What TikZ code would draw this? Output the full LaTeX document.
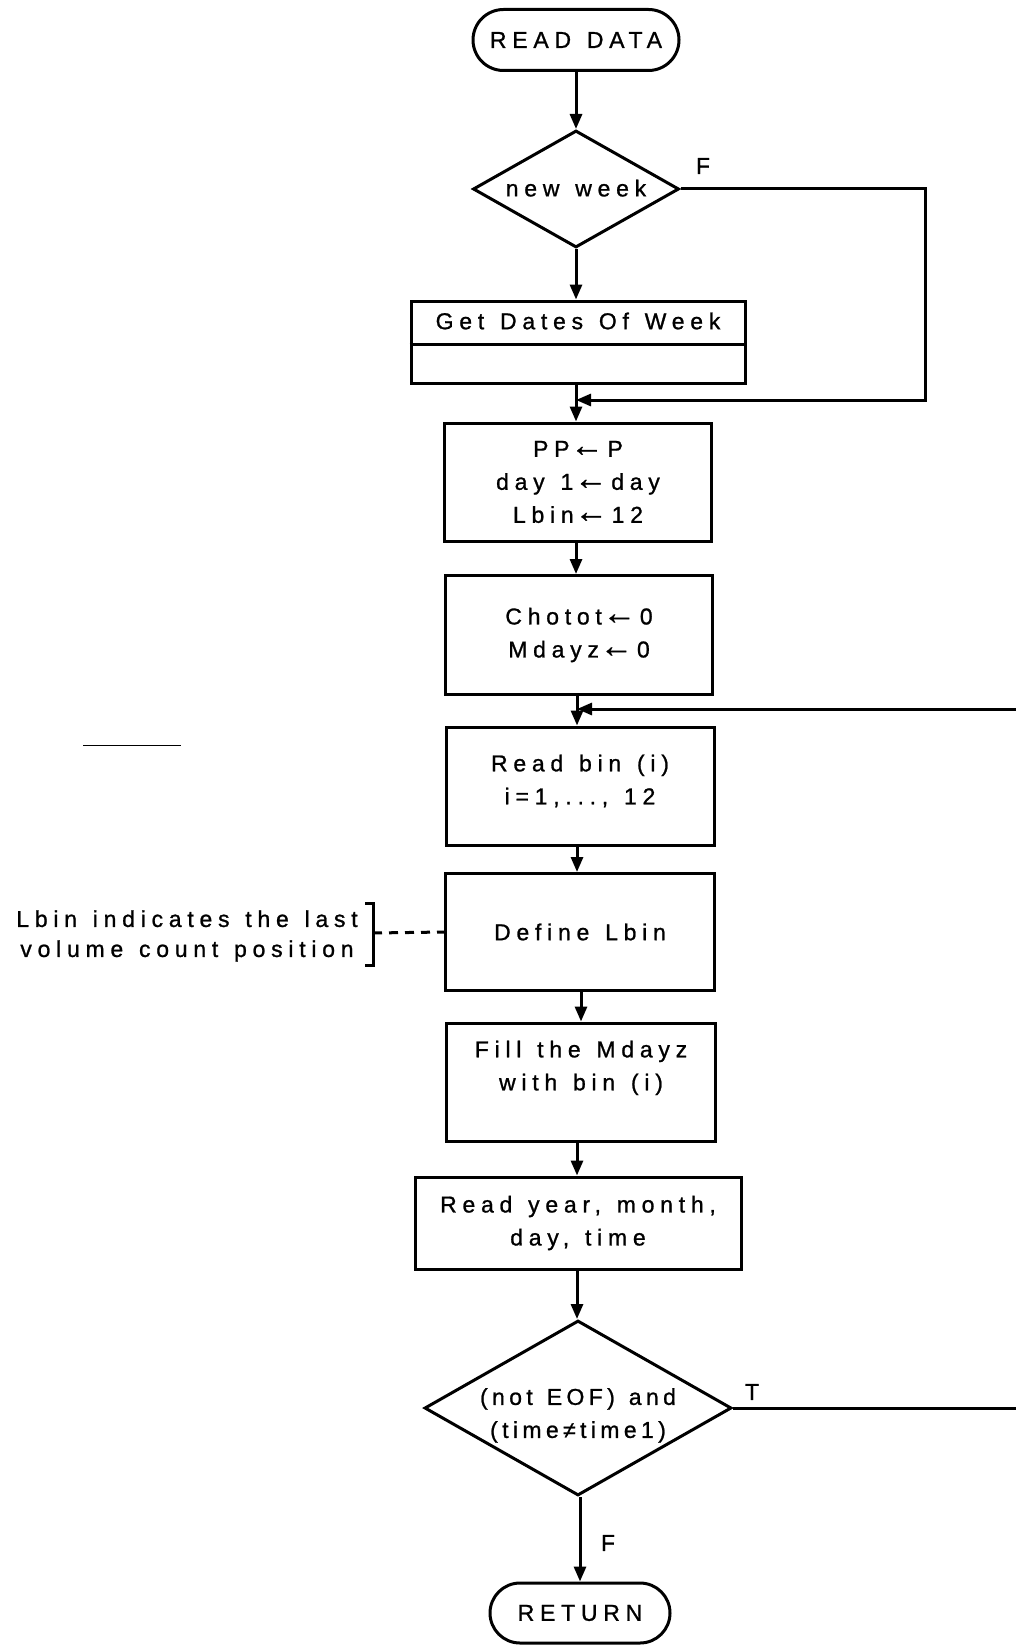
\documentclass[tikz,border=0pt]{standalone}
\usepackage{fontspec}
\setmainfont{Liberation Sans}[LetterSpace=25, WordSpace=1.3, FakeBold=1]
\usetikzlibrary{shapes.geometric,shapes.misc,arrows.meta}
% left arrow used in assignments
\newcommand\asg{{\kern1pt\raisebox{0.5pt}{\fontsize{33}{33}\selectfont\addfontfeature{LetterSpace=0}←}\kern4pt}}
% decision text: set without size so the diamond keeps its given dimensions
\newcommand\dtext[2][0pt]{\smash{\makebox[0pt]{\raisebox{#1}{\begin{tabular}{@{}c@{}}#2\end{tabular}}}}}
\begin{document}
\begin{tikzpicture}[x=1pt,y=-1pt,
  font=\fontsize{23}{33}\selectfont,
  ln/.style={line width=3pt},
  box/.style={draw, ln, rectangle, align=center, inner sep=0pt},
  term/.style={draw, ln, rounded rectangle, align=center, inner sep=0pt},
  dec/.style={draw, ln, diamond, inner sep=0pt},
  flow/.style={ln, -{Triangle[length=15pt,width=12pt]}},
  lbl/.style={inner sep=0pt}]
\useasboundingbox (0,0) rectangle (1016,1645);
\clip (0,0) rectangle (1016,1645);

% main column
\node[term, minimum width=206, minimum height=61] (start) at (576,40) {READ DATA};
\node[dec, minimum width=206, minimum height=117] (week) at (576,189) {\dtext[-7pt]{new week}};
\node[box, minimum width=334, minimum height=82] (dates) at (578,342) {};
\node[lbl] (datestxt) at (578,321) {Get Dates Of Week};
\draw[ln] (dates.west |- 0,344) -- (dates.east |- 0,344);
\node[box, minimum width=267, minimum height=118] (init) at (578,482) {PP\asg P\\day 1\asg day\\Lbin\asg 12};
\node[box, minimum width=267, minimum height=119] (zero) at (579,635) {Chotot\asg 0\\Mdayz\asg 0};
\node[box, minimum width=268, minimum height=118] (readbin) at (580,786) {Read bin (i)\\i=1,..., 12\\[-20pt]~};
\node[box, minimum width=269, minimum height=117] (define) at (580,932) {Define Lbin};
\node[box, minimum width=269, minimum height=118] (fill) at (581,1082) {Fill the Mdayz\\with bin (i)\\~};
\node[box, minimum width=326, minimum height=92] (readyr) at (578,1223) {Read year, month,\\day, time};
\node[dec, minimum width=307, minimum height=175] (eof) at (578,1408)
  {\addfontfeature{LetterSpace=19}\dtext[-13pt]{(not EOF) and\\(time≠time1)}};
\node[term, minimum width=180, minimum height=60] (ret) at (580,1613) {RETURN};

% branch labels
\node[lbl] (lf1) at (703,166) {F};
\node[lbl] (lt2) at (752,1392) {T};
\node[lbl] (lf2) at (608,1543) {F};

% join points and loop-back rails
\coordinate (join1) at (576,400);
\coordinate (rail1) at (925,0);
\coordinate (join2) at (577,709);
\coordinate (rail2) at (1040,0);

% straight flow
\draw[flow] (start.south) -- (start.south |- week.north);
\draw[flow] (week.south) -- (week.south |- dates.north);
\draw[flow] (dates.south -| join1) -- (join1 |- init.north);
\draw[flow] (init.south -| join1) -- (join1 |- zero.north);
\draw[flow] (zero.south -| join2) -- (join2 |- readbin.north);
\draw[flow] (readbin.south -| join2) -- (join2 |- define.north);
\draw[flow] (define.south -| fill) -- (fill.north);
\draw[flow] (fill.south -| join2) -- (join2 |- readyr.north);
\draw[flow] (readyr.south -| join2) -- (join2 |- eof.north);
\draw[flow] (eof.south -| ret) -- (ret.north);

% loops
\draw[flow] (week.east) -- (week.east -| rail1) |- (join1);
\draw[flow] (eof.east) -- (eof.east -| rail2) |- (join2);

% annotation
\node[lbl, align=center, font=\fontsize{23}{30}\selectfont] (note) at (187,936)
  {Lbin indicates the last\\volume count position};
\coordinate (brk) at (373,933);
\draw[ln] (365,903) -- (373,903) -- (373,965) -- (365,965);
\draw[ln, dash pattern=on 9pt off 7pt] (brk) -- (define.west);

% short rule on the left
\draw[line width=1pt] (83,745) -- (181,745);
\end{tikzpicture}
\end{document}
